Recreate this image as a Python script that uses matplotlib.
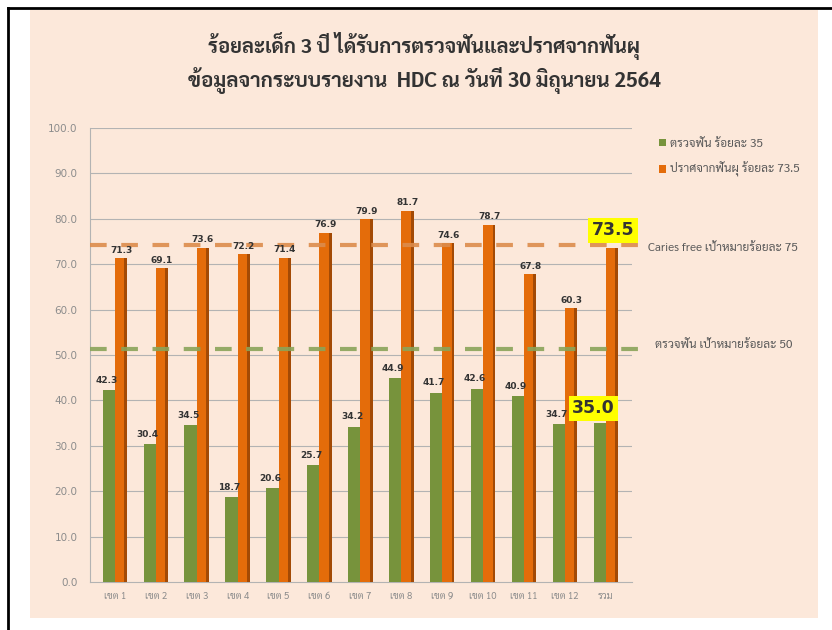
import matplotlib
matplotlib.use("Agg")
import matplotlib.pyplot as plt
from matplotlib import font_manager
from matplotlib.patches import Rectangle
from matplotlib.lines import Line2D

# ---------------- data ----------------
categories = ["เขต 1", "เขต 2", "เขต 3", "เขต 4", "เขต 5", "เขต 6", "เขต 7",
              "เขต 8", "เขต 9", "เขต 10", "เขต 11", "เขต 12", "รวม"]
checked = [42.3, 30.4, 34.5, 18.7, 20.6, 25.7, 34.2, 44.9, 41.7, 42.6, 40.9, 34.7, 35.0]
caries_free = [71.3, 69.1, 73.6, 72.2, 71.4, 76.9, 79.9, 81.7, 74.6, 78.7, 67.8, 60.3, 73.5]
series_names = ["ตรวจฟัน ร้อยละ 35", "ปราศจากฟันผุ ร้อยละ 73.5"]
target_caries_free = 75
target_checked = 50
target_labels = ["Caries free เป้าหมายร้อยละ 75", "ตรวจฟัน เป้าหมายร้อยละ 50"]
yticks = [0, 10, 20, 30, 40, 50, 60, 70, 80, 90, 100]
title_lines = ["ร้อยละเด็ก 3 ปี ได้รับการตรวจฟันและปราศจากฟันผุ",
               "ข้อมูลจากระบบรายงาน  HDC ณ วันที่ 30 มิถุนายน 2564"]

# ---------------- font ----------------
def has_bold(name):
    for f in font_manager.fontManager.ttflist:
        if f.name == name:
            w = f.weight
            if isinstance(w, str):
                if w.lower() in ("bold", "heavy", "black", "extra bold", "demibold", "semibold"):
                    return True
            elif w >= 600:
                return True
    return False

names = {f.name for f in font_manager.fontManager.ttflist}
thai = None
for cand in ["Sarabun", "Noto Sans Thai Looped", "Noto Sans Thai", "IBM Plex Sans Thai Looped",
             "IBM Plex Sans Thai", "Bai Jamjuree", "Chakra Petch"]:
    if cand in names and has_bold(cand):
        thai = cand
        break
if thai is None:
    for cand in ["Noto Sans Thai Looped", "Noto Sans Thai", "Sarabun"]:
        if cand in names:
            thai = cand
            break
if thai is None:
    thai = "DejaVu Sans"
plt.rcParams['font.family'] = [thai, 'DejaVu Sans']

GREEN = "#77933c"
ORANGE = "#e46c0a"
ORANGE_DARK = "#a34a05"
PEACH = "#fce8da"
GRID = "#b3b3b3"
TXT = "#333333"

W, H = 832, 630
fig = plt.figure(figsize=(W / 100, H / 100), dpi=100)
fig.patch.set_facecolor("white")

# slide background
fig.add_artist(Rectangle((30 / W, 12 / H), (818 - 30) / W, (620 - 12) / H,
                         transform=fig.transFigure, facecolor=PEACH, edgecolor="none", zorder=0))
# frame lines (top & left)
fig.add_artist(Line2D([8 / W, 1.0], [1 - 8 / H, 1 - 8 / H], transform=fig.transFigure,
                      color="black", lw=2))
fig.add_artist(Line2D([8 / W, 8 / W], [0, 1 - 8 / H], transform=fig.transFigure,
                      color="black", lw=2))

ax = fig.add_axes([90 / W, (H - 582) / H, (632 - 90) / W, (582 - 128) / H])
ax.set_facecolor("none")
n = len(categories)
ax.set_xlim(-0.61, n - 1 + 0.64)
ax.set_ylim(0, 100)

bw = 0.30
xs = list(range(n))
ax.bar([x - bw / 2 for x in xs], checked, width=bw, color=GREEN, zorder=3, label=series_names[0])
ax.bar([x + bw / 2 for x in xs], caries_free, width=bw, color=ORANGE, zorder=3, label=series_names[1])
ax.bar([x + bw - 0.035 for x in xs], caries_free, width=0.07, color=ORANGE_DARK, zorder=3.5)

for y in yticks[1:]:
    ax.axhline(y, color=GRID, lw=0.8, zorder=1)
for s in ["top", "right"]:
    ax.spines[s].set_visible(False)
ax.spines["left"].set_color(GRID)
ax.spines["bottom"].set_color(GRID)
ax.spines["left"].set_linewidth(0.8)
ax.spines["bottom"].set_linewidth(0.8)

ax.set_yticks(yticks)
ax.set_yticklabels([f"{v:.1f}" for v in yticks], fontsize=7.5, color="#8c8c8c",
                   family="DejaVu Sans")
ax.set_xticks(xs)
ax.set_xticklabels(categories, fontsize=7, color="#8c8c8c")
ax.tick_params(length=0)
ax.tick_params(axis="y", pad=9)
ax.tick_params(axis="x", pad=7)

# value labels
for i in range(n - 1):
    ax.text(i - bw / 2 - 0.05, checked[i] + 1.2, f"{checked[i]:.1f}", ha="center", va="bottom",
            fontsize=6.5, fontweight="bold", color="#333333", family="DejaVu Sans", zorder=5)
    ax.text(i + bw / 2, caries_free[i] + 0.8, f"{caries_free[i]:.1f}", ha="center", va="bottom",
            fontsize=6.5, fontweight="bold", color="#333333", family="DejaVu Sans", zorder=5)

# highlighted totals
ax.text(n - 1 + 0.18, caries_free[-1] + 4.0, f"{caries_free[-1]:.1f}", ha="center", va="center",
        fontsize=12.5, fontweight="bold", color="#333333", family="DejaVu Sans", zorder=6,
        bbox=dict(boxstyle="square,pad=0.2", facecolor="#ffff00", edgecolor="none"))
ax.text(n - 1 - 0.3, checked[-1] + 3.3, f"{checked[-1]:.1f}", ha="center", va="center",
        fontsize=12.5, fontweight="bold", color="#333333", family="DejaVu Sans", zorder=6,
        bbox=dict(boxstyle="square,pad=0.2", facecolor="#ffff00", edgecolor="none"))

# target lines
ax.plot([-0.6, n - 1 + 0.82], [target_caries_free - 0.8] * 2, color="#dc8c4c", lw=3,
        dashes=(4, 3.5), zorder=4, clip_on=False, alpha=0.9)
ax.plot([-0.6, n - 1 + 0.82], [target_checked + 1.3] * 2, color="#8aa45a", lw=3,
        dashes=(4, 3.5), zorder=4, clip_on=False, alpha=0.9)
fig.text(648 / W, 1 - 249 / H, target_labels[0], fontsize=8.5, color="#595959", va="center")
fig.text(655 / W, 1 - 345 / H, target_labels[1], fontsize=8.5, color="#595959", va="center")

# legend
leg = fig.legend(loc="upper left", bbox_to_anchor=(648 / W, 1 - 128 / H), frameon=False,
                 fontsize=8.5, handlelength=0.6, handleheight=0.6, handletextpad=0.4,
                 labelspacing=1.05, labelcolor="#595959")

# title
fig.text(424 / W, 1 - 46 / H, title_lines[0], ha="center", va="center", fontsize=14.5,
         fontweight="bold", color=TXT)
fig.text(424 / W, 1 - 80 / H, title_lines[1], ha="center", va="center", fontsize=14.8,
         fontweight="bold", color=TXT)

fig.savefig("out.png", dpi=100, facecolor="white")
